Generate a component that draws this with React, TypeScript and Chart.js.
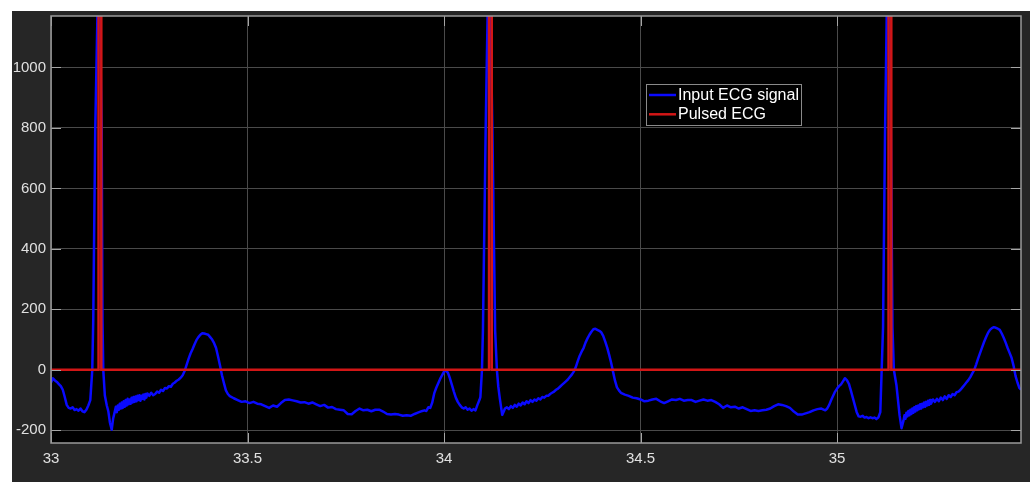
import React, { useEffect, useRef } from 'react';
import { Chart, registerables } from 'chart.js';

Chart.register(...registerables);

// ---- data ----
const seriesNames = ['Input ECG signal', 'Pulsed ECG'];
const xRange = [33, 35.468];
const yRange = [-242, 1170];
const xTickValues = [33, 33.5, 34, 34.5, 35];
const xTickLabels = ['33', '33.5', '34', '34.5', '35'];
const yTickValues = [-200, 0, 200, 400, 600, 800, 1000];
const yTickLabels = ['-200', '0', '200', '400', '600', '800', '1000'];

// [time (s), amplitude]
const ecgSignal: number[][] = [
  [33.000, -42], [33.005, -28], [33.010, -35], [33.015, -40], [33.020, -47], [33.025, -54], [33.030, -66], [33.035, -90], [33.040, -116], [33.045, -126],
  [33.050, -128], [33.055, -124], [33.060, -133], [33.065, -130], [33.070, -135], [33.075, -128], [33.080, -137], [33.085, -140], [33.090, -132], [33.095, -118],
  [33.100, -100], [33.105, 0], [33.1075, 165], [33.1125, 790], [33.1215, 1400], [33.129, 790], [33.131, 165], [33.133, 0], [33.137, -85], [33.142, -118],
  [33.146, -138], [33.150, -175], [33.1545, -198], [33.158, -162], [33.162, -140],
  [33.165, -122], [33.1675, -140], [33.170, -118], [33.1725, -132], [33.175, -112], [33.1775, -128], [33.180, -108], [33.1825, -126], [33.185, -104], [33.1875, -122],
  [33.190, -100], [33.1925, -118], [33.195, -96], [33.1975, -114], [33.200, -98], [33.2025, -112], [33.205, -92], [33.2075, -108], [33.210, -90], [33.2125, -106],
  [33.215, -88], [33.2175, -104], [33.220, -86], [33.2225, -100], [33.225, -84], [33.2275, -102], [33.230, -86], [33.2325, -96], [33.235, -82], [33.2375, -98],
  [33.240, -80], [33.2425, -92], [33.245, -78],
  [33.250, -86], [33.255, -76], [33.260, -84], [33.265, -80], [33.270, -72], [33.275, -76], [33.280, -66], [33.285, -70], [33.290, -60], [33.295, -62],
  [33.300, -54], [33.305, -56], [33.310, -46], [33.315, -42], [33.320, -36], [33.325, -32], [33.330, -26], [33.335, -18], [33.340, -4], [33.345, 16],
  [33.350, 36], [33.355, 54], [33.360, 68], [33.365, 84], [33.370, 98], [33.375, 108], [33.380, 116], [33.385, 121], [33.390, 120], [33.395, 118],
  [33.400, 116], [33.405, 108], [33.410, 100], [33.415, 88], [33.420, 72], [33.425, 44], [33.430, 14], [33.435, -18], [33.440, -44], [33.445, -68],
  [33.450, -80], [33.455, -87],
  [33.465, -94], [33.475, -100], [33.485, -106], [33.495, -104], [33.505, -110], [33.515, -106], [33.525, -112], [33.535, -114], [33.545, -120], [33.555, -126],
  [33.565, -118], [33.575, -122], [33.585, -110], [33.595, -100], [33.605, -98], [33.615, -101], [33.625, -104], [33.635, -108], [33.645, -107], [33.655, -112],
  [33.665, -108], [33.675, -114], [33.685, -120], [33.695, -116], [33.705, -125], [33.715, -123], [33.725, -130], [33.735, -132], [33.745, -134], [33.755, -146],
  [33.765, -147], [33.775, -136], [33.785, -128], [33.795, -134], [33.805, -132], [33.815, -137], [33.825, -132], [33.835, -132], [33.845, -138], [33.855, -146],
  [33.865, -148], [33.875, -146], [33.885, -148], [33.895, -152], [33.905, -150], [33.915, -152], [33.925, -146], [33.935, -141], [33.945, -136],
  [33.950, -134], [33.955, -136], [33.960, -124], [33.965, -126], [33.970, -108], [33.975, -78], [33.980, -60], [33.985, -45], [33.990, -30], [33.995, -18],
  [34.000, -6], [34.005, -2], [34.010, -10], [34.015, -28], [34.020, -50], [34.025, -72], [34.030, -92], [34.035, -106], [34.040, -116], [34.045, -124],
  [34.050, -128], [34.055, -124], [34.060, -132], [34.065, -128], [34.070, -135], [34.075, -130], [34.080, -134], [34.085, -116], [34.090, -100], [34.0925, -90],
  [34.0965, 0], [34.099, 130], [34.106, 800], [34.1145, 1450], [34.123, 800], [34.130, 130], [34.1345, 0], [34.138, -55], [34.142, -95], [34.148, -149],
  [34.152, -138], [34.155, -128],
  [34.160, -124], [34.165, -130], [34.170, -120], [34.175, -126], [34.180, -116], [34.185, -122], [34.190, -112], [34.195, -118], [34.200, -108], [34.205, -114],
  [34.210, -104], [34.215, -110], [34.220, -100], [34.225, -106], [34.230, -98], [34.235, -102], [34.240, -94], [34.245, -98], [34.250, -90], [34.255, -92],
  [34.260, -86], [34.265, -86], [34.270, -80], [34.275, -76], [34.280, -72], [34.285, -66], [34.290, -62], [34.295, -56], [34.300, -50], [34.305, -44],
  [34.310, -38], [34.315, -32], [34.320, -24], [34.325, -16], [34.330, -6], [34.335, 8], [34.340, 28], [34.345, 46], [34.350, 60], [34.355, 72],
  [34.360, 90], [34.365, 104], [34.370, 116], [34.375, 126], [34.380, 134], [34.385, 136], [34.390, 132], [34.395, 129], [34.400, 124], [34.405, 112],
  [34.410, 94], [34.415, 74], [34.420, 50], [34.425, 24], [34.430, -6], [34.435, -36], [34.440, -58], [34.445, -68], [34.450, -76],
  [34.460, -82], [34.470, -86], [34.480, -92], [34.490, -94], [34.500, -98], [34.510, -104], [34.520, -102], [34.530, -98], [34.540, -96], [34.550, -104],
  [34.560, -110], [34.570, -104], [34.580, -98], [34.590, -100], [34.600, -96], [34.610, -102], [34.620, -100], [34.630, -100], [34.640, -106], [34.650, -102],
  [34.660, -98], [34.670, -102], [34.680, -100], [34.690, -106], [34.700, -114], [34.710, -126], [34.720, -118], [34.730, -124], [34.740, -122], [34.750, -128],
  [34.760, -124], [34.770, -130], [34.780, -136], [34.790, -134], [34.800, -136], [34.810, -134], [34.820, -132], [34.830, -128], [34.840, -120], [34.850, -114],
  [34.860, -116], [34.870, -120], [34.880, -126], [34.890, -138], [34.900, -148], [34.910, -148], [34.920, -144], [34.930, -140], [34.940, -134], [34.950, -130],
  [34.960, -128], [34.970, -134],
  [34.975, -128], [34.980, -116], [34.985, -100], [34.990, -86], [34.995, -72], [35.000, -62], [35.005, -54], [35.010, -48], [35.015, -38], [35.020, -28],
  [35.025, -34], [35.030, -46], [35.035, -68], [35.040, -92], [35.045, -116], [35.050, -140], [35.055, -154], [35.060, -155], [35.065, -152], [35.070, -158],
  [35.075, -156], [35.080, -160], [35.085, -157], [35.090, -160], [35.095, -158], [35.100, -163], [35.105, -158], [35.110, -140],
  [35.1135, 0], [35.117, 140], [35.122, 780], [35.1295, 1450], [35.137, 780], [35.141, 140], [35.1445, 0], [35.151, -50], [35.159, -150], [35.164, -193],
  [35.169, -168],
  [35.1715, -150], [35.174, -162], [35.1765, -142], [35.179, -154], [35.1815, -136], [35.184, -150], [35.1865, -132], [35.189, -146], [35.1915, -128], [35.194, -142],
  [35.1965, -124], [35.199, -138], [35.2015, -120], [35.204, -134], [35.2065, -118], [35.209, -130], [35.2115, -114], [35.214, -128], [35.2165, -112], [35.219, -124],
  [35.2215, -108], [35.224, -122], [35.2265, -106], [35.229, -118], [35.2315, -102], [35.234, -116], [35.2365, -100], [35.239, -112],
  [35.244, -98], [35.249, -106], [35.254, -96], [35.259, -104], [35.264, -92], [35.269, -100], [35.274, -88], [35.279, -96], [35.284, -84], [35.289, -90],
  [35.294, -80], [35.299, -84], [35.304, -74], [35.309, -72], [35.314, -66], [35.319, -58], [35.324, -50], [35.329, -42], [35.334, -34], [35.339, -24],
  [35.344, -12], [35.349, 0], [35.354, 18], [35.359, 38], [35.364, 56], [35.369, 74], [35.374, 92], [35.379, 108], [35.384, 122], [35.389, 132],
  [35.394, 138], [35.399, 141], [35.404, 139], [35.409, 136], [35.414, 132], [35.419, 120], [35.424, 106], [35.429, 90], [35.434, 72], [35.439, 56],
  [35.444, 40], [35.449, 14], [35.454, -20], [35.459, -42], [35.464, -60], [35.468, -66],
];

const pulseTime = [33, 33.121, 33.121, 33.128, 33.128, 34.1145, 34.1145, 34.1215, 34.1215, 35.131, 35.131, 35.138, 35.138, 35.468];
const pulseValue = [0, 0, 1500, 1500, 0, 0, 1500, 1500, 0, 0, 1500, 1500, 0, 0];

const seriesColors = ['#0a0aff', '#d21616'];
const FONT = "'Liberation Sans', Arial, Helvetica, sans-serif";

const decorPlugin = {
  id: 'matlabDecor',
  beforeDraw(chart: any) {
    const { ctx, chartArea: a } = chart;
    ctx.save();
    ctx.fillStyle = '#000000';
    ctx.fillRect(a.left, a.top, a.right - a.left, a.bottom - a.top);
    ctx.restore();
  },
  afterDatasetsDraw(chart: any) {
    const { ctx, chartArea: a } = chart;
    const xs = chart.scales.x;
    const ys = chart.scales.y;
    ctx.save();
    ctx.strokeStyle = '#a6a6a6';
    ctx.lineWidth = 1;
    const tl = 10;
    ctx.beginPath();
    xTickValues.forEach((v) => {
      const px = Math.round(xs.getPixelForValue(v)) + 0.5;
      ctx.moveTo(px, a.bottom);
      ctx.lineTo(px, a.bottom - tl);
      ctx.moveTo(px, a.top);
      ctx.lineTo(px, a.top + tl);
    });
    yTickValues.forEach((v) => {
      const py = Math.round(ys.getPixelForValue(v)) + 0.5;
      ctx.moveTo(a.left, py);
      ctx.lineTo(a.left + tl, py);
      ctx.moveTo(a.right, py);
      ctx.lineTo(a.right - tl, py);
    });
    ctx.stroke();
    ctx.strokeStyle = '#9a9a9a';
    ctx.lineWidth = 1.5;
    ctx.strokeRect(a.left, a.top, a.right - a.left, a.bottom - a.top);
    ctx.restore();
  },
  afterDraw(chart: any) {
    const { ctx, chartArea: a } = chart;
    const bx = a.left + 595;
    const by = a.top + 68;
    const bw = 155;
    const bh = 41;
    ctx.save();
    ctx.fillStyle = '#000000';
    ctx.fillRect(bx, by, bw, bh);
    ctx.strokeStyle = '#8a8a8a';
    ctx.lineWidth = 1;
    ctx.strokeRect(bx + 0.5, by + 0.5, bw, bh);
    ctx.font = `16px ${FONT}`;
    ctx.textBaseline = 'middle';
    ctx.textAlign = 'left';
    chart.data.datasets.forEach((ds: any, i: number) => {
      const cy = by + 11 + i * 19.3;
      ctx.strokeStyle = ds.borderColor;
      ctx.lineWidth = 2.5;
      ctx.beginPath();
      ctx.moveTo(bx + 3, cy);
      ctx.lineTo(bx + 30, cy);
      ctx.stroke();
      ctx.fillStyle = '#ffffff';
      ctx.fillText(ds.label, bx + 32, cy + 0.5);
    });
    ctx.restore();
  },
};

export default function App() {
  const ref = useRef<HTMLCanvasElement>(null);
  useEffect(() => {
    const canvas = ref.current;
    if (!canvas) return;
    const chart = new Chart(canvas, {
      type: 'line',
      data: {
        datasets: [
          {
            label: seriesNames[0],
            data: ecgSignal.map((p) => ({ x: p[0], y: p[1] })),
            borderColor: seriesColors[0],
            borderWidth: 2.5,
            pointRadius: 0,
            tension: 0,
            order: 1,
            clip: 0,
            borderJoinStyle: 'round',
          },
          {
            label: seriesNames[1],
            data: pulseTime.map((t, i) => ({ x: t, y: pulseValue[i] })),
            borderColor: seriesColors[1],
            borderWidth: 2.5,
            pointRadius: 0,
            tension: 0,
            order: 0,
            clip: 0,
          },
        ],
      },
      options: {
        animation: false,
        responsive: false,
        maintainAspectRatio: false,
        events: [],
        layout: { padding: { top: 5, right: 9, left: 0, bottom: 0 } },
        plugins: { legend: { display: false }, tooltip: { enabled: false } },
        scales: {
          x: {
            type: 'linear',
            min: xRange[0],
            max: xRange[1],
            afterBuildTicks: (scale: any) => {
              scale.ticks = xTickValues.map((v) => ({ value: v }));
            },
            afterFit: (scale: any) => {
              scale.height = 39;
              scale.paddingLeft = 0;
              scale.paddingRight = 0;
            },
            grid: { color: '#4a4a4a', lineWidth: 1, drawTicks: false },
            border: { display: false },
            ticks: {
              padding: 7,
              color: '#e0e0e0',
              font: { family: FONT, size: 15 },
              maxRotation: 0,
              autoSkip: false,
              callback: (_v: any, i: number) => xTickLabels[i],
            },
          },
          y: {
            type: 'linear',
            min: yRange[0],
            max: yRange[1],
            afterBuildTicks: (scale: any) => {
              scale.ticks = yTickValues.map((v) => ({ value: v }));
            },
            afterFit: (scale: any) => {
              scale.width = 39;
              scale.paddingTop = 0;
              scale.paddingBottom = 0;
            },
            grid: { color: '#4a4a4a', lineWidth: 1, drawTicks: false },
            border: { display: false },
            ticks: {
              padding: 5,
              color: '#e0e0e0',
              font: { family: FONT, size: 15 },
              autoSkip: false,
              callback: (_v: any, i: number) => yTickLabels[i],
            },
          },
        },
      } as any,
      plugins: [decorPlugin],
    });
    return () => chart.destroy();
  }, []);

  return (
    <div
      style={{
        position: 'absolute',
        left: 12,
        top: 11,
        width: 1018,
        height: 471,
        background: '#262626',
      }}
    >
      <canvas ref={ref} width={1018} height={471} style={{ display: 'block', width: 1018, height: 471 }} />
    </div>
  );
}
